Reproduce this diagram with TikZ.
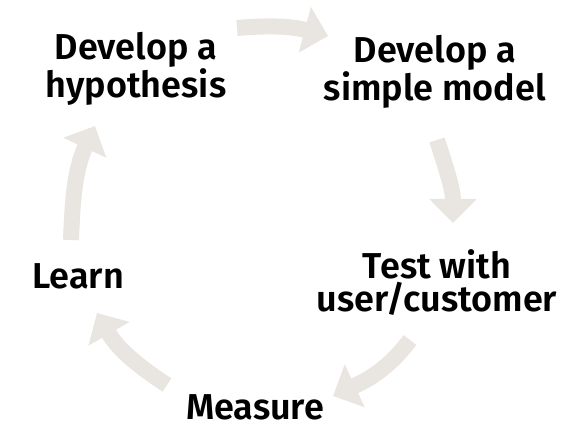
\documentclass[tikz,border=0pt]{standalone}
\usepackage{fontspec}
\setmainfont{Fira Sans}[BoldFont={Fira Sans SemiBold}]
\usetikzlibrary{arrows.meta}
\definecolor{arrowgray}{HTML}{E9E5E1}
\tikzset{
  lbl/.style={font=\fontsize{36pt}{33pt}\selectfont\bfseries, align=center, inner sep=0pt, text=black},
  cyc/.style={draw=arrowgray, line width=16pt, -{Triangle[length=24pt,width=46pt,fill=arrowgray]}}
}
\begin{document}
\begin{tikzpicture}[x=1pt,y=-1pt]
\useasboundingbox (0,0) rectangle (586,427);
\node[lbl] (hyp) at (136,69) {Develop a\\hypothesis};
\node[lbl] (model) at (435,72) {Develop a\\simple model};
\node[lbl] (test) at (437,283) {Test with\\user/customer};
\node[lbl] (meas) at (255,407) {Measure};
\node[lbl] (learn) at (78,276) {Learn};
\coordinate (a1s) at (237,28);  \coordinate (a1e) at (328,36);
\coordinate (a2s) at (437,140); \coordinate (a2e) at (453,223);
\coordinate (a3s) at (410,340); \coordinate (a3e) at (333,396);
\coordinate (a4s) at (167,385); \coordinate (a4e) at (97,313);
\coordinate (a5s) at (71,240);  \coordinate (a5e) at (95,126);
\draw[cyc] (a1s) to[out=5,in=165] (a1e);
\draw[cyc] (a2s) to[out=-72,in=90] (a2e);
\draw[cyc] (a3s) to[out=-127,in=25] (a3e);
\draw[cyc] (a4s) to[out=147,in=-60] (a4e);
\draw[cyc] (a5s) to[out=88,in=-115] (a5e);
\end{tikzpicture}
\end{document}
